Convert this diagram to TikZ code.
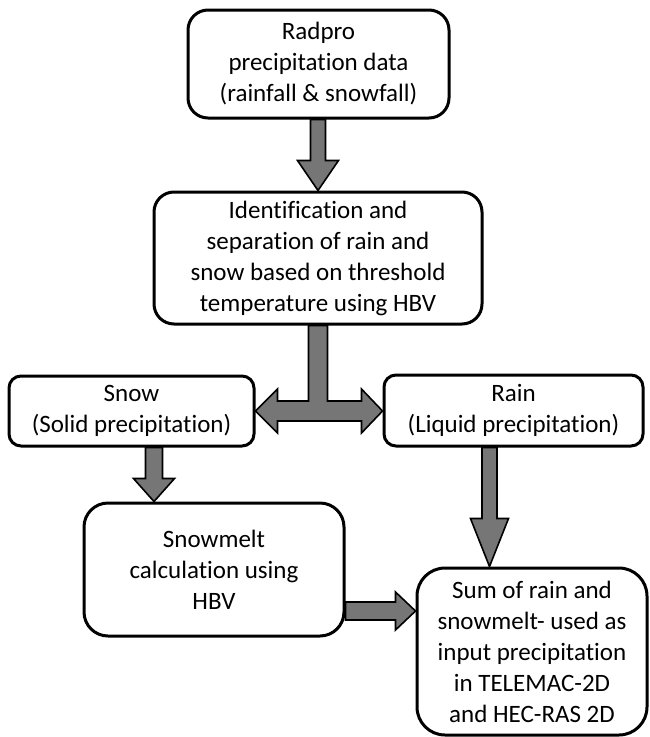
\documentclass[tikz,border=0pt]{standalone}
\usepackage{fontspec}
\setmainfont{Carlito}[Ligatures={NoCommon,NoContextual}]
\usetikzlibrary{calc}
\definecolor{arrowgray}{RGB}{118,118,118}
\tikzset{
  box/.style={draw=black, line width=3pt, fill=white, rectangle, inner sep=0pt,
    align=center, font=\fontsize{25}{31}\selectfont},
  blockarrow/.style={draw=black, fill=arrowgray, line width=1.6pt, line join=miter, miter limit=20}
}
% down block arrow: #1 start, #2 end, #3 shaft half, #4 head half, #5 head length
\newcommand\downblock[5]{%
  \path[blockarrow] let \p1=(#1), \p2=(#2) in
    (\x1-#3pt,\y1) -- (\x1+#3pt,\y1) -- (\x1+#3pt,\y2+#5pt) -- (\x1+#4pt,\y2+#5pt)
    -- (\x1,\y2) -- (\x1-#4pt,\y2+#5pt) -- (\x1-#3pt,\y2+#5pt) -- cycle;}
% right block arrow
\newcommand\rightblock[5]{%
  \path[blockarrow] let \p1=(#1), \p2=(#2) in
    (\x1,\y1+#3pt) -- (\x1,\y1-#3pt) -- (\x2-#5pt,\y1-#3pt) -- (\x2-#5pt,\y1-#4pt)
    -- (\x2,\y1) -- (\x2-#5pt,\y1+#4pt) -- (\x2-#5pt,\y1+#3pt) -- cycle;}
\begin{document}
\begin{tikzpicture}[x=1pt,y=-1pt]
\useasboundingbox (0,0) rectangle (649,737);

\node[box, rounded corners=20pt, minimum width=261pt, minimum height=108pt] (radpro) at (318.5,64)
  {Radpro\\precipitation data\\(rainfall \& snowfall)};
\node[box, rounded corners=20pt, minimum width=328pt, minimum height=132pt] (ident) at (318,258)
  {Identification and\\separation of rain and\\snow based on threshold\\temperature using HBV};
\node[box, rounded corners=12pt, minimum width=245pt, minimum height=70pt] (snow) at (131.5,411)
  {Snow\\(Solid precipitation)};
\node[box, rounded corners=12pt, minimum width=259pt, minimum height=71pt] (rain) at (513.5,410.5)
  {Rain\\(Liquid precipitation)};
\node[box, rounded corners=24pt, minimum width=260pt, minimum height=133pt] (melt) at (214,569.5)
  {Snowmelt\\calculation using\\HBV};
\node[box, rounded corners=28pt, minimum width=230pt, minimum height=167pt] (sum) at (532,651.5)
  {Sum of rain and\\snowmelt- used as\\input precipitation\\in TELEMAC-2D\\and HEC-RAS 2D};

\coordinate (csnow) at (154,0);
\coordinate (crain) at (489.5,0);
\coordinate (cmid) at (318,0);
\coordinate (crow) at (0,611);

% Radpro -> Identification
\downblock{radpro.south -| cmid}{ident.north -| cmid}{7.5}{20.5}{30}
% Identification -> Snow / Rain (T-shaped double arrow)
\path[blockarrow] let \p1=(snow.east), \p2=(rain.west), \p3=(ident.south) in
  (\x1,\y1) -- (\x1+22pt,\y1+22pt) -- (\x1+22pt,\y1+10pt) -- (\x3-9.5pt,\y1+10pt)
  -- (\x3-9.5pt,\y3) -- (\x3+9.5pt,\y3) -- (\x3+9.5pt,\y1+10pt) -- (\x2-21pt,\y1+10pt)
  -- (\x2-21pt,\y1+22pt) -- (\x2,\y1) -- (\x2-21pt,\y1-22pt) -- (\x2-21pt,\y1-10pt)
  -- (\x1+22pt,\y1-10pt) -- (\x1+22pt,\y1-22pt) -- cycle;
% Snow -> Snowmelt
\downblock{snow.south -| csnow}{melt.north -| csnow}{8.5}{20.5}{23}
% Rain -> Sum
\downblock{rain.south -| crain}{sum.north -| crain}{7.5}{19}{48}
% Snowmelt -> Sum
\rightblock{melt.east |- crow}{sum.west |- crow}{9}{19}{20}
\end{tikzpicture}
\end{document}
